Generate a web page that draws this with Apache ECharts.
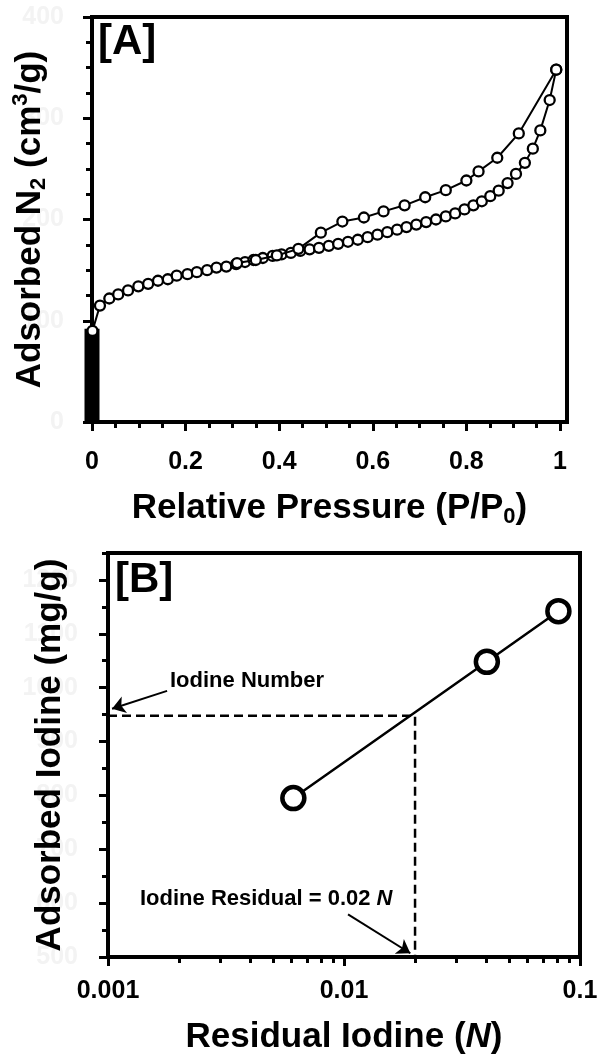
<!DOCTYPE html>
<html>
<head>
<meta charset="utf-8">
<script src="https://cdn.jsdelivr.net/npm/echarts@6.0.0/dist/echarts.min.js"></script>
<style>
  html, body { margin: 0; padding: 0; background: #fff; }
  #chart { width: 598px; height: 1056px; }
</style>
</head>
<body>
<div id="chart"></div>
<script>
// ---- [A] N2 adsorption / desorption isotherm ----
const adsP = [0.001, 0.017, 0.037, 0.056, 0.077, 0.099, 0.120, 0.141, 0.162, 0.181, 0.204, 0.224, 0.246,
  0.266, 0.287, 0.308, 0.327, 0.345, 0.365, 0.386, 0.405, 0.425, 0.445, 0.465, 0.485, 0.506, 0.526, 0.547,
  0.568, 0.589, 0.610, 0.631, 0.652, 0.672, 0.693, 0.714, 0.735, 0.756, 0.776, 0.796, 0.815, 0.833, 0.851,
  0.869, 0.888, 0.906, 0.925, 0.942, 0.958, 0.978, 0.992];
const adsV = [90, 115, 122, 126, 130, 134, 136.5, 139.5, 141, 144.5, 146, 148, 150,
  152.5, 153.5, 156, 158, 160, 162, 164, 165.5, 167, 169, 170.5, 172, 174, 176, 178,
  180, 182.5, 185, 187.5, 190, 192.5, 195, 197.5, 200, 203, 206, 210, 214, 218, 223,
  228.5, 236, 245, 256, 270, 288, 318, 348];
const desP = [0.992, 0.912, 0.866, 0.826, 0.800, 0.756, 0.712, 0.668, 0.623, 0.581, 0.535, 0.489, 0.441,
  0.395, 0.350, 0.310];
const desV = [348, 285, 261, 247.5, 238.5, 229, 222, 214, 208, 202, 198, 187, 171, 164.5, 160, 157];
// micropore filling points at P/P0 ~ 0 (they pile up into a solid bar)
const microP = [0, 0, 0, 0, 0, 0, 0, 0, 0, 0, 0];
const microV = [0, 10, 20, 31, 42, 52, 61, 70, 78, 86, 92];

const pressureMajor = [0, 0.2, 0.4, 0.6, 0.8, 1];
const pressureMinor = [0.05, 0.1, 0.15, 0.25, 0.3, 0.35, 0.45, 0.5, 0.55, 0.65, 0.7, 0.75, 0.85, 0.9, 0.95];

// ---- [B] iodine adsorption ----
const residual = [0.0061, 0.0403, 0.081];
const adsorbedIodine = [795, 1048, 1142];
const iodineNumber = 948;
const residualAtNumber = 0.02;
const residualMajor = [0.001, 0.01, 0.1];
const residualMinor = [0.002, 0.003, 0.004, 0.005, 0.006, 0.007, 0.008, 0.009,
  0.02, 0.03, 0.04, 0.05, 0.06, 0.07, 0.08, 0.09];
const iodineMajor = [500, 600, 700, 800, 900, 1000, 1100, 1200];
const iodineMinor = [550, 650, 750, 850, 950, 1050, 1150, 1250];
// arrow annotations [from, to]
const numberArrow = [[0.00178, 994], [0.00104, 961]];
const residualArrow = [[0.0104, 579], [0.0191, 507]];

const FONT = 'Liberation Sans, Arial, sans-serif';
const pairs = (xs, ys) => xs.map((x, i) => [x, ys[i]]);

const chart = echarts.init(document.getElementById('chart'));

const blackLine = { color: '#000', width: 4 };
const tickStyle = { color: '#000', width: 3 };
// the source figure has its y tick labels whited out
const ghostLabel = { color: '#f3f3f3', fontSize: 25, fontWeight: 'bold', fontFamily: FONT, formatter: v => String(v) };
const tickLabel = { color: '#000', fontSize: 25, fontWeight: 'bold', fontFamily: FONT, formatter: v => String(v) };
const nameStyle = {
  color: '#000', fontSize: 35, fontWeight: 'bold', fontFamily: FONT, lineHeight: 40,
  rich: {
    sub: { fontSize: 22, fontWeight: 'bold', fontFamily: FONT, lineHeight: 8, verticalAlign: 'bottom' },
    sup: { fontSize: 22, fontWeight: 'bold', fontFamily: FONT, lineHeight: 20, verticalAlign: 'top' },
    it: { fontSize: 35, fontWeight: 'bold', fontStyle: 'italic', fontFamily: FONT }
  }
};

// extra axis that only carries minor ticks and/or faint labels, drawn under the main axis
function backAxis(gridIndex, type, min, max, position, ticks, len, labels, margin) {
  return {
    gridIndex: gridIndex, type: type, min: min, max: max, position: position, z: 0,
    axisLine: { show: false, onZero: false },
    axisTick: ticks ? { show: true, customValues: ticks, length: len, lineStyle: tickStyle } : { show: false },
    axisLabel: labels ? Object.assign({ show: true, customValues: labels, margin: margin }, ghostLabel) : { show: false },
    splitLine: { show: false }
  };
}

chart.setOption({
  animation: false,
  grid: [
    { left: 92, top: 17, width: 475, height: 405, show: true, borderColor: '#000', borderWidth: 4, outerBoundsMode: 'none' },
    { left: 108, top: 553, width: 472, height: 404, show: true, borderColor: '#000', borderWidth: 4, outerBoundsMode: 'none' }
  ],
  xAxis: [
    {
      gridIndex: 0, type: 'value', min: 0, max: 1.015, position: 'bottom', z: 2,
      axisLine: { onZero: false, lineStyle: blackLine },
      axisTick: { customValues: pressureMajor, length: 9, lineStyle: tickStyle },
      axisLabel: Object.assign({ customValues: pressureMajor, margin: 28 }, tickLabel),
      splitLine: { show: false },
      name: 'Relative Pressure (P/P{sub|0})', nameLocation: 'middle', nameGap: 66,
      nameMoveOverlap: false, nameTextStyle: nameStyle
    },
    backAxis(0, 'value', 0, 1.015, 'bottom', pressureMinor, 6, null),
    {
      gridIndex: 1, type: 'log', logBase: 10, min: 0.001, max: 0.1, position: 'bottom', z: 2,
      axisLine: { onZero: false, lineStyle: blackLine },
      axisTick: { customValues: residualMajor, length: 9, lineStyle: tickStyle },
      axisLabel: Object.assign({ customValues: residualMajor, margin: 22 }, tickLabel),
      splitLine: { show: false },
      name: 'Residual Iodine ({it|N})', nameLocation: 'middle', nameGap: 60,
      nameMoveOverlap: false, nameTextStyle: nameStyle
    },
    Object.assign(backAxis(1, 'log', 0.001, 0.1, 'bottom', residualMinor, 6, null), { logBase: 10 })
  ],
  yAxis: [
    {
      gridIndex: 0, type: 'value', min: 0, max: 400, interval: 100, position: 'left', z: 2,
      axisLine: { onZero: false, lineStyle: blackLine },
      axisTick: { length: 9, lineStyle: tickStyle },
      minorTick: { show: true, splitNumber: 4, length: 6, lineStyle: tickStyle },
      axisLabel: { show: false },
      splitLine: { show: false }, minorSplitLine: { show: false },
      name: 'Adsorbed N{sub|2} (cm{sup|3}/g)', nameLocation: 'middle', nameRotate: 90, nameGap: 42,
      nameMoveOverlap: false, nameTextStyle: nameStyle
    },
    Object.assign(backAxis(0, 'value', 0, 400, 'left', null, 0, null), {
      interval: 100, axisLabel: Object.assign({ show: true, margin: 28 }, ghostLabel)
    }),
    {
      gridIndex: 1, type: 'value', min: 500, max: 1250, position: 'left', z: 2,
      axisLine: { onZero: false, lineStyle: blackLine },
      axisTick: { customValues: iodineMajor, length: 9, lineStyle: tickStyle },
      axisLabel: { show: false },
      splitLine: { show: false },
      name: 'Adsorbed Iodine (mg/g)', nameLocation: 'middle', nameRotate: 90, nameGap: 38,
      nameMoveOverlap: false, nameTextStyle: nameStyle
    },
    backAxis(1, 'value', 500, 1250, 'left', iodineMinor, 6, iodineMajor, 30)
  ],
  series: [
    {
      name: 'micropore', type: 'line', xAxisIndex: 0, yAxisIndex: 0,
      data: pairs(microP, microV), symbol: 'none',
      lineStyle: { color: '#000', width: 15 }, z: 3
    },
    {
      name: 'adsorption', type: 'line', xAxisIndex: 0, yAxisIndex: 0,
      data: pairs(adsP, adsV), symbol: 'circle', symbolSize: 10, showAllSymbol: true,
      lineStyle: { color: '#000', width: 2 },
      itemStyle: { color: '#fff', borderColor: '#000', borderWidth: 2.3 }, z: 4
    },
    {
      name: 'desorption', type: 'line', xAxisIndex: 0, yAxisIndex: 0,
      data: pairs(desP, desV), symbol: 'circle', symbolSize: 10, showAllSymbol: true,
      lineStyle: { color: '#000', width: 2 },
      itemStyle: { color: '#fff', borderColor: '#000', borderWidth: 2.3 }, z: 5
    },
    {
      name: 'guide', type: 'line', xAxisIndex: 2, yAxisIndex: 2,
      data: [[residualMajor[0], iodineNumber], [residualAtNumber, iodineNumber], [residualAtNumber, 500]],
      symbol: 'none', lineStyle: { color: '#000', width: 2.5, type: [9, 5] },
      markLine: {
        silent: true, symbol: ['none', 'arrow'], symbolSize: 13,
        label: { show: false },
        lineStyle: { color: '#000', width: 2, type: 'solid' },
        data: [
          [{ coord: numberArrow[0] }, { coord: numberArrow[1] }],
          [{ coord: residualArrow[0] }, { coord: residualArrow[1] }]
        ]
      }
    },
    {
      name: 'iodine', type: 'line', xAxisIndex: 2, yAxisIndex: 2,
      data: pairs(residual, adsorbedIodine), symbol: 'circle', symbolSize: 22,
      lineStyle: { color: '#000', width: 2.5 },
      itemStyle: { color: '#fff', borderColor: '#000', borderWidth: 4.5 }, z: 5
    }
  ],
  graphic: [
    { type: 'text', left: 98, top: 21, style: { text: '[A]', fontSize: 42, fontWeight: 'bold', fontFamily: FONT, fill: '#000' } },
    { type: 'text', left: 115, top: 559, style: { text: '[B]', fontSize: 42, fontWeight: 'bold', fontFamily: FONT, fill: '#000' } },
    { type: 'text', x: 170, y: 681, style: { text: 'Iodine Number', fontSize: 22, fontWeight: 'bold', fontFamily: FONT, fill: '#000', verticalAlign: 'middle' } },
    {
      type: 'text', x: 140, y: 899,
      style: {
        text: 'Iodine Residual = 0.02 {it|N}', fontSize: 22, fontWeight: 'bold', fontFamily: FONT, fill: '#000', verticalAlign: 'middle',
        rich: { it: { fontSize: 22, fontWeight: 'bold', fontStyle: 'italic', fontFamily: FONT } }
      }
    }
  ]
});
</script>
</body>
</html>
